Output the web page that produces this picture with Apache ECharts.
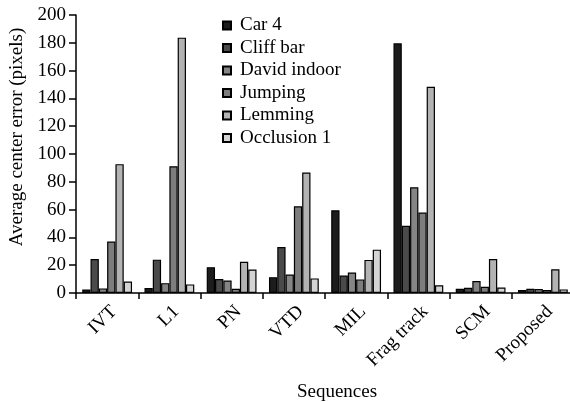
<!DOCTYPE html>
<html>
<head>
<meta charset="utf-8">
<script src="https://cdn.jsdelivr.net/npm/echarts@6/dist/echarts.min.js"></script>
<style>
html, body { margin: 0; padding: 0; background: #fff; }
#container { width: 570px; height: 402px; }
</style>
</head>
<body>
<div id="container"></div>
<script>
var sequences = ['IVT', 'L1', 'PN', 'VTD', 'MIL', 'Frag track', 'SCM', 'Proposed'];
var yTicks = [0, 20, 40, 60, 80, 100, 120, 140, 160, 180, 200];

var car4 = [2.6, 3.6, 18.6, 11.4, 59.5, 179.6, 3.1, 2.1];
var cliffBar = [24.5, 24.0, 10.0, 33.1, 12.6, 48.3, 3.8, 3.1];
var davidIndoor = [3.3, 7.1, 9.0, 13.3, 14.8, 76.1, 8.6, 2.9];
var jumping = [37, 91.2, 3.1, 62.4, 9.8, 57.9, 4.5, 2.1];
var lemming = [92.7, 183.7, 22.4, 86.7, 23.8, 148.4, 24.5, 17.1];
var occlusion1 = [8.3, 6.2, 16.9, 10.5, 31.2, 5.5, 4.0, 2.6];

var serif = '"Liberation Serif", "DejaVu Serif", serif';

var dom = document.getElementById('container');
var myChart = echarts.init(dom);

function bars(name, data, color) {
    return {
        name: name,
        type: 'bar',
        data: data,
        barGap: '0%',
        barCategoryGap: '20%',
        itemStyle: { color: color, borderColor: '#000', borderWidth: 1.2 }
    };
}

var option = {
    backgroundColor: '#fff',
    animation: false,
    textStyle: { fontFamily: serif, color: '#000' },
    grid: { left: 76, right: -4, top: 15, bottom: 109, outerBoundsMode: 'none', containLabel: false },
    legend: {
        orient: 'vertical',
        left: 217,
        top: 11,
        itemWidth: 8,
        itemHeight: 8,
        itemGap: 3.5,
        icon: 'rect',
        textStyle: { fontFamily: serif, fontSize: 19, color: '#000', padding: [0, 0, 0, 4] },
        data: ['Car 4', 'Cliff bar', 'David indoor', 'Jumping', 'Lemming', 'Occlusion 1']
    },
    xAxis: {
        type: 'category',
        data: sequences,
        name: 'Sequences',
        nameLocation: 'middle',
        nameGap: 90,
        nameTextStyle: { fontFamily: serif, fontSize: 19, color: '#000', padding: [0, 0, 0, 24] },
        axisLine: { lineStyle: { color: '#000', width: 1.5 } },
        axisTick: { show: true, length: 6, lineStyle: { color: '#000', width: 1.5 } },
        axisLabel: { rotate: 45, fontFamily: serif, fontSize: 19, color: '#000', margin: 9, verticalAlign: 'top' }
    },
    yAxis: {
        type: 'value',
        min: yTicks[0],
        max: yTicks[yTicks.length - 1],
        interval: 20,
        name: 'Average center error (pixels)',
        nameLocation: 'middle',
        nameGap: 47,
        nameTextStyle: { fontFamily: serif, fontSize: 19, color: '#000', padding: [0, 0, 0, 34] },
        axisLine: { show: true, lineStyle: { color: '#000', width: 1.5 } },
        axisTick: { show: true, length: 7, lineStyle: { color: '#000', width: 1.5 } },
        axisLabel: { fontFamily: serif, fontSize: 19, color: '#000', margin: 10 },
        splitLine: { show: false }
    },
    series: [
        bars('Car 4', car4, '#1c1c1c'),
        bars('Cliff bar', cliffBar, '#4a4a4a'),
        bars('David indoor', davidIndoor, '#858585'),
        bars('Jumping', jumping, '#7d7d7d'),
        bars('Lemming', lemming, '#b3b3b3'),
        bars('Occlusion 1', occlusion1, '#d4d4d4')
    ]
};

if (option && typeof option === 'object') {
    myChart.setOption(option, true);
}
</script>
</body>
</html>
